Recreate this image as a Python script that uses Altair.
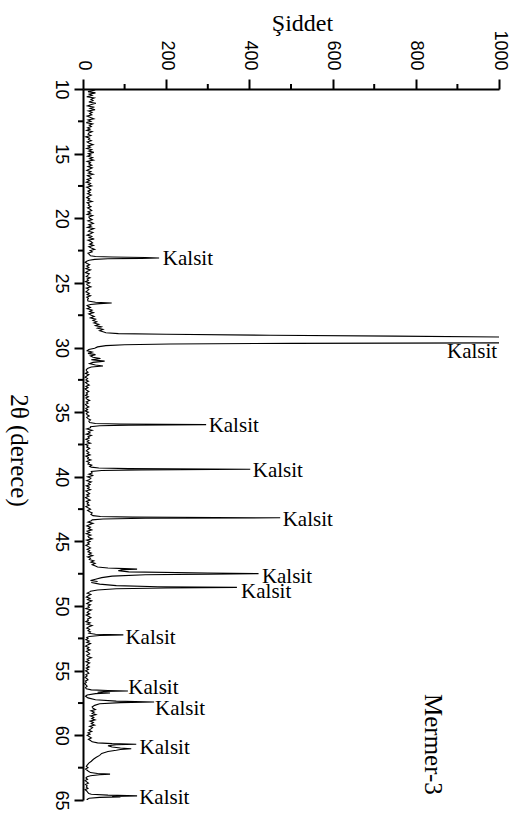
import altair as alt
import pandas as pd

# ---- XRD scan of Mermer-3 (2θ in degrees, counts) ----
# Background stretches sampled on a 0.1° grid: each list starts at the given angle.
STEP = 0.1
bg_10_0 = [
    18, 26, 12, 30, 15, 22, 9, 27, 19, 24,
    14, 31, 20, 11, 25, 17, 29, 13, 22, 16,
    21, 10, 18, 26, 12, 19, 8, 23, 15, 20,
    11, 17, 9, 22, 14, 12, 19, 7, 16, 13,
    20, 10, 15, 24, 12, 18, 9, 21, 14, 26,
    13, 19, 11, 23, 16, 25, 10, 18, 14, 21,
    12, 22, 15, 9, 19, 13, 24, 11, 17, 20,
    10, 16, 8, 18, 13, 21, 9, 15, 19, 12,
    17, 11, 20, 14, 9, 16, 12, 22, 10, 15,
    13, 19, 11, 17, 21, 12, 18, 10, 23, 14,
    16, 22, 12, 19, 25, 14, 20, 11, 26, 17,
    13, 24, 18, 10, 21, 15, 27, 12, 19, 23,
    16, 25, 14, 20, 28, 17, 22, 12,
]
bg_23_4 = [5, 10, 16, 9, 14, 7, 18, 11, 6, 15, 12, 8, 17, 10, 13,
           6, 16, 9, 12, 19, 8, 14, 11, 7, 15, 10, 18, 9, 13, 11]
bg_26_8 = [12, 18, 10, 22, 16, 25, 14, 20, 27, 18, 30, 24, 33, 26, 38,
           30, 44, 35, 48, 40, 50]
bg_31_8 = [8, 12, 6, 14, 9, 5, 11, 7, 13, 6, 10, 15, 7, 12, 5, 9, 14, 8, 11, 6,
           13, 7, 10, 16, 8, 12, 6, 9, 14, 7, 11, 5, 13, 8, 10, 15, 9, 12, 18, 14]
bg_36_2 = [18, 9, 22, 13, 17, 8, 20, 12, 15, 7, 14, 10, 18, 6, 12, 9, 16, 11,
           8, 14, 10, 17, 7, 13, 11, 19, 9, 15, 12, 21, 16]
bg_39_7 = [22, 14, 25, 11, 19, 16, 9, 20, 13, 17, 8, 15, 11, 18, 7, 12, 16, 9,
           14, 6, 11, 17, 8, 13, 10, 15, 7, 12, 18, 11, 16, 22, 19]
bg_43_4 = [20, 12, 24, 15, 9, 18, 13, 21, 10, 16, 8, 19, 12, 14, 22, 9, 17, 11,
           15, 7, 13, 18, 10, 16, 12, 20, 14, 23, 11, 18, 15, 26, 19, 29, 22, 30]
bg_48_9 = [16, 10, 19, 13, 8, 17, 11, 21, 14, 9, 18, 12, 15, 7, 20, 13, 10, 16,
           8, 14, 19, 11, 13, 7, 17, 10, 22, 14, 9, 16, 12, 18]
bg_52_5 = [12, 7, 15, 9, 18, 11, 6, 14, 10, 17, 8, 13, 16, 9, 12, 20, 10, 14, 7,
           16, 11, 9, 15, 8, 13, 6, 11, 14, 7, 10, 5, 9, 12, 6, 8, 4, 7, 10, 6]
bg_57_9 = [24, 30, 19, 27, 22, 31, 18, 26, 21, 29, 17, 25, 20, 28, 16, 23, 19,
           14, 21, 12, 17, 10, 15, 20, 13, 18]
bg_62_4 = [8, 12, 6, 10, 14]
bg_63_3 = [7, 11, 5, 9, 13, 6, 10, 8, 12, 5, 9, 11, 14]

background = [
    (10.0, bg_10_0), (23.4, bg_23_4), (26.8, bg_26_8), (31.8, bg_31_8),
    (36.2, bg_36_2), (39.7, bg_39_7), (43.4, bg_43_4), (48.9, bg_48_9),
    (52.5, bg_52_5), (57.9, bg_57_9), (62.4, bg_62_4), (63.3, bg_63_3),
]

# Reflection profiles, read point by point: (2θ, counts)
peak_points = [
    (22.80, 15), (22.90, 18), (22.96, 30), (23.00, 70), (23.04, 150), (23.07, 183),
    (23.10, 140), (23.13, 60), (23.18, 28), (23.25, 15), (23.30, 10),
    (26.40, 12), (26.50, 30), (26.55, 69), (26.60, 40), (26.67, 18), (26.75, 10),
    (28.85, 55), (28.92, 85), (28.97, 200), (29.05, 450), (29.12, 750), (29.18, 1000),
    (29.30, 2200), (29.40, 3000), (29.50, 2200), (29.64, 1000), (29.68, 500),
    (29.72, 210), (29.78, 100), (29.85, 55), (29.95, 35),
    (30.05, 28), (30.15, 14), (30.25, 10), (30.35, 22), (30.45, 12), (30.55, 30),
    (30.65, 18), (30.75, 24), (30.85, 42), (30.95, 20), (31.05, 52), (31.15, 24),
    (31.25, 16), (31.35, 30), (31.43, 48), (31.50, 20), (31.60, 12), (31.70, 8),
    (35.80, 16), (35.87, 30), (35.92, 90), (35.96, 296), (36.00, 110), (36.05, 40),
    (36.12, 18),
    (39.25, 20), (39.32, 38), (39.37, 110), (39.42, 402), (39.46, 140), (39.51, 45),
    (39.58, 20),
    (43.00, 24), (43.07, 42), (43.12, 120), (43.17, 474), (43.21, 150), (43.26, 48),
    (43.33, 22),
    (46.98, 35), (47.05, 60), (47.10, 100), (47.14, 130), (47.18, 95), (47.26, 85),
    (47.35, 110), (47.44, 300), (47.49, 422), (47.53, 300), (47.58, 150),
    (47.68, 70), (47.80, 45), (47.92, 30), (48.02, 18), (48.10, 35), (48.18, 20),
    (48.30, 40), (48.42, 80), (48.50, 180), (48.55, 370), (48.60, 200), (48.66, 80),
    (48.75, 35), (48.85, 18),
    (52.10, 14), (52.18, 30), (52.23, 97), (52.28, 40), (52.35, 15), (52.42, 9),
    (56.40, 8), (56.48, 20), (56.53, 60), (56.57, 108), (56.61, 50), (56.66, 35),
    (56.72, 65), (56.77, 30), (56.88, 10), (56.98, 6), (57.10, 12), (57.25, 30),
    (57.35, 80), (57.42, 171), (57.47, 90), (57.55, 40), (57.68, 28), (57.80, 22),
    (60.50, 22), (60.58, 35), (60.64, 70), (60.69, 128), (60.73, 80), (60.80, 60),
    (60.90, 70), (60.98, 90), (61.04, 116), (61.09, 90), (61.15, 80), (61.25, 60),
    (61.40, 45), (61.55, 40), (61.70, 32), (61.85, 25), (62.00, 20), (62.15, 14),
    (62.30, 10),
    (62.88, 18), (62.95, 35), (63.00, 65), (63.05, 40), (63.12, 18), (63.20, 10),
    (64.55, 20), (64.62, 60), (64.68, 130), (64.72, 70), (64.76, 90), (64.80, 40),
    (64.87, 15), (64.95, 10), (65.00, 12),
]

# Phase labels: (2θ of text centre, counts at text start)
label_theta = [23.15, 30.36, 36.08, 39.57, 43.31, 47.74, 48.92, 52.49, 56.33, 57.98, 61.0, 64.88]
label_counts = [192, 875, 302, 408, 480, 430, 380, 102, 109, 173, 136, 135]
label_text = ["Kalsit"] * len(label_theta)

x_major = [0, 200, 400, 600, 800, 1000]
x_minor = [100, 300, 500, 700, 900]
y_major = [10, 15, 20, 25, 30, 35, 40, 45, 50, 55, 60, 65]
y_minor = [12.5, 17.5, 22.5, 27.5, 32.5, 37.5, 42.5, 47.5, 52.5, 57.5, 62.5]

# ---- assemble the scan table ----
rows = []
for start, values in background:
    for i, v in enumerate(values):
        rows.append((round(start + i * STEP, 2), v))
rows.extend(peak_points)
scan = pd.DataFrame(rows, columns=["angle", "counts"]).sort_values("angle")

labels = pd.DataFrame({"angle": label_theta, "counts": label_counts, "text": label_text})
sample = pd.DataFrame({"angle": [60.7], "counts": [841], "text": ["Mermer-3"]})
x_minor_df = pd.DataFrame({"counts": x_minor})
y_minor_df = pd.DataFrame({"angle": y_minor})

SERIF = "Liberation Serif"
SANS = "Liberation Sans"

x_scale = alt.Scale(domain=[0, 1000], nice=False, zero=True)
y_scale = alt.Scale(domain=[10, 65], nice=False, zero=False, reverse=True)

x_axis = alt.Axis(
    orient="top", values=x_major, format="d", title="Şiddet", grid=False,
    titleFont=SERIF, titleFontSize=24, titleFontWeight="normal", titleColor="black",
    titleX=219, titleY=-59, titleAlign="center", titleBaseline="alphabetic",
    labelAngle=90, labelAlign="right", labelBaseline="middle", labelPadding=9,
    labelFont=SANS, labelFontSize=18, labelColor="black",
    labelFlush=False, labelOverlap=False,
    tickSize=10, tickWidth=2, tickColor="black", domainWidth=2, domainColor="black",
)
y_axis = alt.Axis(
    orient="left", values=y_major, format="d", title="2θ (derece)", grid=False,
    titleFont=SERIF, titleFontSize=25, titleFontWeight="normal", titleColor="black",
    titleAngle=90, titleX=-65, titleY=361, titleAlign="center", titleBaseline="middle",
    labelAngle=90, labelAlign="center", labelBaseline="top", labelPadding=5,
    labelFont=SANS, labelFontSize=18, labelColor="black",
    labelFlush=False, labelOverlap=False,
    tickSize=9, tickWidth=2, tickColor="black", domainWidth=2, domainColor="black",
)

X = alt.X("counts:Q", scale=x_scale, axis=x_axis)
Y = alt.Y("angle:Q", scale=y_scale, axis=y_axis)

pattern = alt.Chart(scan).mark_line(color="black", strokeWidth=1.1, clip=True).encode(
    x=X, y=Y, order=alt.Order("angle:Q"),
)

# minor ticks between the labelled ones
minor_x = alt.Chart(x_minor_df).mark_rule(color="black", strokeWidth=2).encode(
    x=X, y=alt.value(-5), y2=alt.value(0),
)
minor_y = alt.Chart(y_minor_df).mark_rule(color="black", strokeWidth=2).encode(
    y=Y, x=alt.value(-5), x2=alt.value(0),
)

phase_text = alt.Chart(labels).mark_text(
    align="left", baseline="middle", font=SERIF, fontSize=21, color="black"
).encode(x=X, y=Y, text="text:N")

sample_text = alt.Chart(sample).mark_text(
    align="center", baseline="middle", angle=90, font=SERIF, fontSize=25, color="black"
).encode(x=X, y=Y, text="text:N")

chart = alt.layer(pattern, minor_x, minor_y, phase_text, sample_text).properties(
    width=416,
    height=711,
    padding={"left": 83, "top": 89, "right": 13, "bottom": 14},
    autosize=alt.AutoSizeParams(type="none"),
    background="white",
).configure_view(stroke=None)

chart.save("out.html", embed_options={"renderer": "svg", "actions": False})
